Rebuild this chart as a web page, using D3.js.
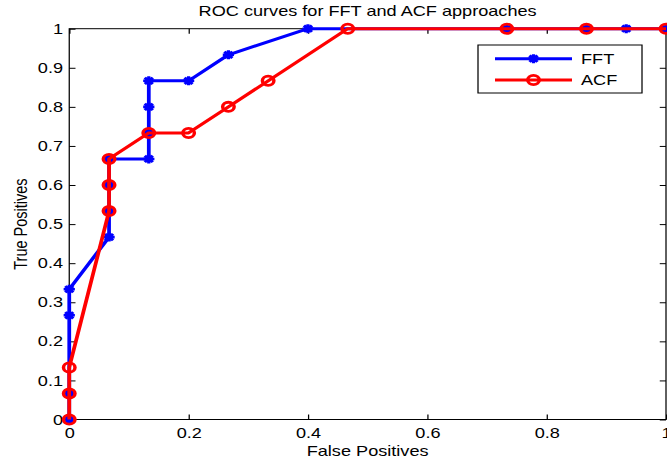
<!DOCTYPE html>
<html>
<head>
<meta charset="utf-8">
<script src="https://cdn.jsdelivr.net/npm/d3@7"></script>
<style>
  body { margin: 0; background: #fff; }
  text { font-family: "Liberation Sans", Arial, sans-serif; font-size: 14.5px; fill: #000; }
</style>
</head>
<body>
<div id="chart"></div>
<script>
// ROC points (steps of 1/15)
const fftFP = [0, 0, 0, 0, 0.0667, 0.0667, 0.0667, 0.0667, 0.1333, 0.1333, 0.1333, 0.1333, 0.2, 0.2667, 0.4, 0.7333, 0.8667, 0.9333, 1];
const fftTP = [0, 0.0667, 0.2667, 0.3333, 0.4667, 0.5333, 0.6, 0.6667, 0.6667, 0.7333, 0.8, 0.8667, 0.8667, 0.9333, 1, 1, 1, 1, 1];
const acfFP = [0, 0, 0, 0.0667, 0.0667, 0.0667, 0.1333, 0.2, 0.2667, 0.3333, 0.4667, 0.7333, 0.8667, 1];
const acfTP = [0, 0.0667, 0.1333, 0.5333, 0.6, 0.6667, 0.7333, 0.7333, 0.8, 0.8667, 1, 1, 1, 1];
const seriesNames = ["FFT", "ACF"];
const seriesColors = ["#0000ff", "#ff0000"];
const xTicks = [0, 0.2, 0.4, 0.6, 0.8, 1];
const yTicks = [0, 0.1, 0.2, 0.3, 0.4, 0.5, 0.6, 0.7, 0.8, 0.9, 1];

const width = 667;
const height = 464;
// the original figure is stretched sideways, so draw in narrower units and scale x
const stretch = 1.25;
const innerW = width / stretch;
const margin = { top: 28.7, right: innerW - 532.8, bottom: height - 419.5, left: 55.4 };

const svg = d3.select("#chart")
  .append("svg")
  .attr("width", width)
  .attr("height", height);

const root = svg.append("g")
  .attr("transform", `scale(${stretch},1)`);

const x = d3.scaleLinear()
  .domain([0, 1])
  .range([margin.left, innerW - margin.right]);

const y = d3.scaleLinear()
  .domain([0, 1])
  .range([height - margin.bottom, margin.top]);

const fmt = d => d3.format("")(d);

// axes, ticks pointing inward like matlab
const axBottom = root.append("g")
  .attr("transform", `translate(0,${height - margin.bottom})`)
  .call(d3.axisBottom(x).tickValues(xTicks).tickSizeInner(-5).tickSizeOuter(0).tickPadding(8.2).tickFormat(fmt));

const axLeft = root.append("g")
  .attr("transform", `translate(${margin.left},0)`)
  .call(d3.axisLeft(y).tickValues(yTicks).tickSizeInner(-5).tickSizeOuter(0).tickPadding(5).tickFormat(fmt));

const axTop = root.append("g")
  .attr("transform", `translate(0,${margin.top})`)
  .call(d3.axisTop(x).tickValues(xTicks).tickSizeInner(-5).tickSizeOuter(0).tickFormat(""));

const axRight = root.append("g")
  .attr("transform", `translate(${innerW - margin.right},0)`)
  .call(d3.axisRight(y).tickValues(yTicks).tickSizeInner(-5).tickSizeOuter(0).tickFormat(""));

[axBottom, axLeft, axTop, axRight].forEach(g => {
  g.select(".domain").remove();
  g.selectAll("line").attr("stroke", "#000");
  g.attr("font-size", null).attr("font-family", null);
});

// axes box
root.append("rect")
  .attr("x", margin.left)
  .attr("y", margin.top)
  .attr("width", innerW - margin.right - margin.left)
  .attr("height", height - margin.bottom - margin.top)
  .attr("fill", "none")
  .attr("stroke", "#000")
  .attr("stroke-width", 1);

// labels
root.append("text")
  .attr("x", (margin.left + innerW - margin.right) / 2)
  .attr("y", 16)
  .attr("text-anchor", "middle")
  .text("ROC curves for FFT and ACF approaches");

root.append("text")
  .attr("x", (margin.left + innerW - margin.right) / 2)
  .attr("y", 456)
  .attr("text-anchor", "middle")
  .text("False Positives");

root.append("text")
  .attr("transform", `translate(21.6,${(margin.top + height - margin.bottom) / 2}) rotate(-90)`)
  .attr("text-anchor", "middle")
  .text("True Positives");

// markers
const starPath = "M-4.5,0L4.5,0M0,-4.5L0,4.5M-3.2,-3.2L3.2,3.2M-3.2,3.2L3.2,-3.2";

function drawSeries(fp, tp, color, kind) {
  const pts = fp.map((d, i) => [d, tp[i]]);
  const line = d3.line().x(d => x(d[0])).y(d => y(d[1]));
  root.append("path")
    .datum(pts)
    .attr("d", line)
    .attr("fill", "none")
    .attr("stroke", color)
    .attr("stroke-width", 3)
    .attr("stroke-linejoin", "round");

  const m = root.append("g");
  if (kind === "star") {
    m.selectAll("path")
      .data(pts)
      .enter()
      .append("path")
      .attr("transform", d => `translate(${x(d[0])},${y(d[1])})`)
      .attr("d", starPath)
      .attr("stroke", color)
      .attr("stroke-width", 2.6)
      .attr("fill", "none");
  } else {
    m.selectAll("circle")
      .data(pts)
      .enter()
      .append("circle")
      .attr("cx", d => x(d[0]))
      .attr("cy", d => y(d[1]))
      .attr("r", 4.6)
      .attr("stroke", color)
      .attr("stroke-width", 2.8)
      .attr("fill", "none");
  }
}

drawSeries(fftFP, fftTP, seriesColors[0], "star");
drawSeries(acfFP, acfTP, seriesColors[1], "circle");

// legend
const legend = root.append("g").attr("transform", "translate(382.4,45)");
legend.append("rect")
  .attr("width", 131.2)
  .attr("height", 48)
  .attr("fill", "#fff")
  .attr("stroke", "#000")
  .attr("stroke-width", 1);

seriesNames.forEach((name, i) => {
  const ly = 13.7 + i * 21.3;
  legend.append("line")
    .attr("x1", 13.6).attr("x2", 75.2)
    .attr("y1", ly).attr("y2", ly)
    .attr("stroke", seriesColors[i])
    .attr("stroke-width", 3);
  if (i === 0) {
    legend.append("path")
      .attr("transform", `translate(44.4,${ly})`)
      .attr("d", starPath)
      .attr("stroke", seriesColors[i])
      .attr("stroke-width", 2.6)
      .attr("fill", "none");
  } else {
    legend.append("circle")
      .attr("cx", 44.4).attr("cy", ly).attr("r", 4.6)
      .attr("stroke", seriesColors[i])
      .attr("stroke-width", 2.8)
      .attr("fill", "none");
  }
  legend.append("text")
    .attr("x", 82.4)
    .attr("y", ly)
    .attr("dy", "0.35em")
    .text(name);
});
</script>
</body>
</html>
